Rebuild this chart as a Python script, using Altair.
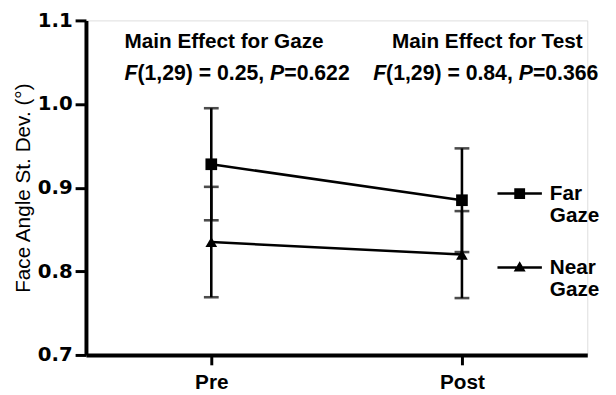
import altair as alt
import pandas as pd

# ---- data ----
tests = ["Pre", "Post"]
gazes = ["Far Gaze", "Near Gaze"]
far_mean = [0.928, 0.885]
far_sem = [0.067, 0.062]
near_mean = [0.835, 0.820]
near_sem = [0.066, 0.052]
y_ticks = [0.7, 0.8, 0.9, 1.0, 1.1]

rows = []
for g, means, sems in [(gazes[0], far_mean, far_sem), (gazes[1], near_mean, near_sem)]:
    for t, m, s in zip(tests, means, sems):
        rows.append(dict(test=t, gaze=g, mean=m, lo=m - s, hi=m + s))
df = pd.DataFrame(rows)

FONT = "Liberation Sans"

x_enc = alt.X("test:N", scale=alt.Scale(type="point", domain=tests, padding=0.5),
              axis=alt.Axis(title=None, labelAngle=0, labelFont=FONT, labelFontSize=21,
                            labelFontWeight="bold", labelColor="black", domainColor="black",
                            domainWidth=4, tickColor="black", tickWidth=3, tickSize=10,
                            labelPadding=7))
y_scale = alt.Scale(domain=[0.7, 1.1], nice=False, zero=False)
y_axis = alt.Axis(values=y_ticks, format=".1f", grid=False, labelFont="DejaVu Sans",
                  labelFontSize=20, labelFontWeight="bold", labelColor="black",
                  domainColor="black", domainWidth=4, tickColor="black", tickWidth=3,
                  tickSize=11, labelPadding=3,
                  title="Face Angle St. Dev. (°)", titleFont=FONT, titleFontSize=21,
                  titleFontWeight="normal", titleColor="black", titlePadding=4)

base = alt.Chart(df)

lines = base.mark_line(color="black", strokeWidth=2.6).encode(
    x=x_enc, y=alt.Y("mean:Q", scale=y_scale, axis=y_axis), detail="gaze:N")

err = base.mark_rule(color="black", strokeWidth=2.6).encode(
    x=x_enc, y=alt.Y("lo:Q", scale=y_scale), y2="hi:Q")
cap_lo = base.mark_tick(color="black", thickness=2.6, size=15, orient="horizontal").encode(
    x=x_enc, y=alt.Y("lo:Q", scale=y_scale))
cap_hi = base.mark_tick(color="black", thickness=2.6, size=15, orient="horizontal").encode(
    x=x_enc, y=alt.Y("hi:Q", scale=y_scale))

points = base.mark_point(filled=True, color="black", opacity=1, size=140).encode(
    x=x_enc, y=alt.Y("mean:Q", scale=y_scale),
    shape=alt.Shape("gaze:N", scale=alt.Scale(domain=gazes, range=["square", "triangle-up"]),
                    legend=None))

# legend: line + marker symbols
far_sym = "M-1,-0.056H1V0.056H-1ZM-0.244,-0.244H0.244V0.244H-0.244Z"
near_sym = "M-1,-0.056H1V0.056H-1ZM0,-0.29L0.27,0.18L-0.27,0.18Z"
leg_df = pd.DataFrame({"key": gazes, "test": tests, "mean": far_mean})
legend_layer = alt.Chart(leg_df).mark_point(filled=True, color="black", opacity=0).encode(
    x=x_enc, y=alt.Y("mean:Q", scale=y_scale),
    shape=alt.Shape("key:N", scale=alt.Scale(domain=gazes, range=[far_sym, near_sym]),
                    legend=alt.Legend(orient="none", legendX=417, legendY=153, title=None,
                                      symbolSize=2025, symbolOpacity=1, symbolFillColor="black",
                                      symbolStrokeWidth=0, labelFont=FONT, labelFontSize=21,
                                      labelFontWeight="bold", labelColor="black", labelOffset=8,
                                      labelExpr="split(datum.label, ' ')", rowPadding=19,
                                      padding=0)))

# annotations
ann_main = pd.DataFrame({"test": ["Pre", "Post"], "y": [1.0741, 1.0741],
                         "t": ["Main Effect for Gaze", "Main Effect for Test"]})
ann_stat = pd.DataFrame({"test": ["Pre", "Post"], "y": [1.0363, 1.0363],
                         "f": ["F", "F"], "mid": ["(1,29) = 0.25,", "(1,29) = 0.84,"],
                         "p": ["P", "P"], "end": ["=0.622", "=0.366"]})


def txt(d, field, test, dx, size, style="normal"):
    return alt.Chart(d).transform_filter(alt.datum.test == test).mark_text(
        align="left", baseline="middle", dx=dx, font=FONT, fontSize=size, fontWeight="bold",
        fontStyle=style, color="black").encode(
        x=x_enc, y=alt.Y("y:Q", scale=y_scale), text=f"{field}:N")


S = 21.5
wF, wMid, wP = 0.611 * S, 6.254 * S, 0.667 * S
texts = []
for test, dx0, dxm in [("Pre", -88, -88), ("Post", -90, -71)]:
    texts.append(txt(ann_main, "t", test, dxm, 21))
    texts.append(txt(ann_stat, "f", test, dx0, S, "italic"))
    texts.append(txt(ann_stat, "mid", test, dx0 + wF, S))
    texts.append(txt(ann_stat, "p", test, dx0 + wF + wMid, S, "italic"))
    texts.append(txt(ann_stat, "end", test, dx0 + wF + wMid + wP, S))

chart = alt.layer(lines, err, cap_lo, cap_hi, points, legend_layer, *texts).resolve_scale(
    shape="independent").properties(
    width=508, height=339,
    autosize=alt.AutoSizeParams(type="none"),
    padding={"left": 79, "top": 10, "right": 21, "bottom": 37},
).configure_view(stroke=None).configure(background="white")

chart.save("out.html", embed_options={"renderer": "svg", "actions": False})
